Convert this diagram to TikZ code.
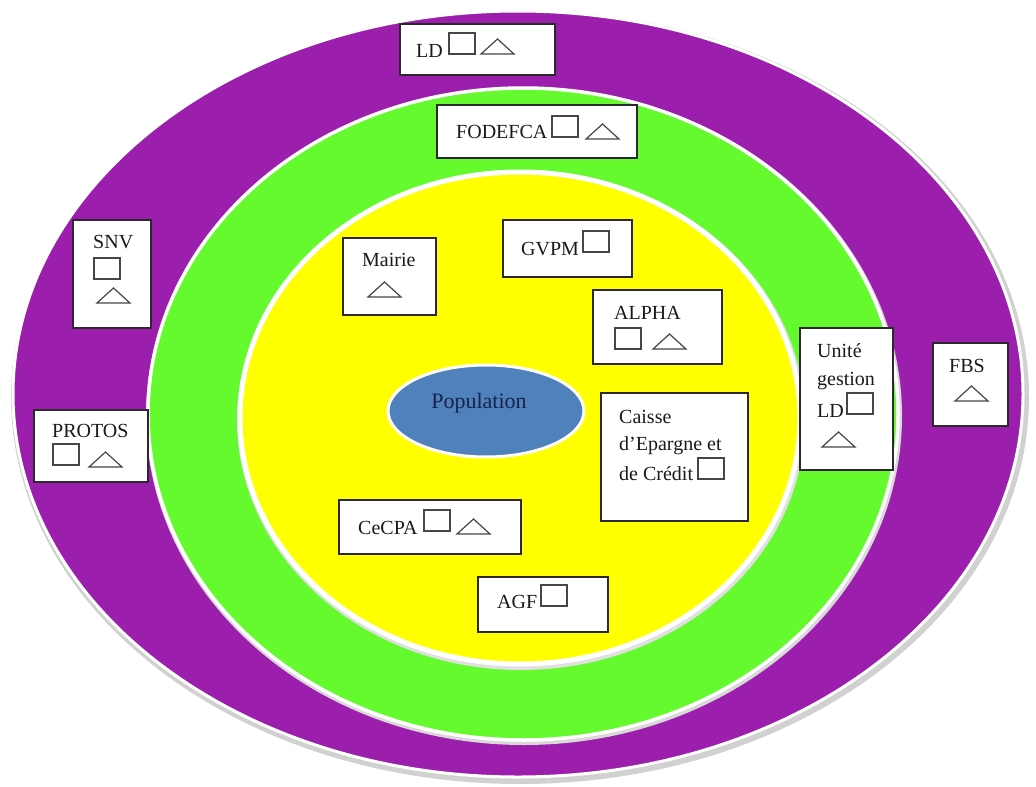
\documentclass[tikz,border=0pt]{standalone}
\usepackage{fontspec}
\setmainfont{Liberation Serif}
\usetikzlibrary{shapes.geometric}
\definecolor{purp}{RGB}{155,30,172}
\definecolor{grn}{RGB}{100,250,45}
\definecolor{yel}{RGB}{255,255,0}
\definecolor{popblue}{RGB}{79,129,189}
\definecolor{boxline}{RGB}{45,40,45}
\definecolor{symline}{RGB}{70,70,70}
\definecolor{txt}{RGB}{25,25,30}
\begin{document}
\begin{tikzpicture}[x=1pt,y=-1pt,
  box/.style={draw=boxline, fill=white, line width=1.6pt, rectangle, inner sep=0pt},
  lbl/.style={anchor=base west, inner sep=0pt, text=txt, font=\fontsize{20}{24}\selectfont},
  symb/.style={draw=symline, line width=1.2pt, line join=miter},
  sqr/.pic={\draw[symb] (0,0) rectangle (26,21);},
  tri/.pic={\draw[symb] (0,15) -- (33,15) -- (16.5,0) -- cycle;}
]
\useasboundingbox (0,0) rectangle (1036,787);
% rings
\fill[black!18] (520,397) ellipse [x radius=509, y radius=387];
\filldraw[fill=purp, draw=white, line width=3pt] (518,394) ellipse [x radius=505, y radius=383];
\fill[black!15] (524,416) ellipse [x radius=378, y radius=329];
\filldraw[fill=grn, draw=white, line width=3.5pt] (523,414) ellipse [x radius=375, y radius=326];
\fill[black!12] (521,420) ellipse [x radius=284, y radius=250];
\filldraw[fill=yel, draw=white, line width=5pt] (520,418) ellipse [x radius=280, y radius=246];
% population
\node[ellipse, fill=popblue, draw=white, line width=3pt, minimum width=196pt, minimum height=92pt, inner sep=0pt] (pop) at (486,411) {};
\node[inner sep=0pt, text={rgb,255:red,25;green,35;blue,70}, font=\fontsize{22}{26}\selectfont] (popT) at (479,403) {Population};
% boxes
\node[box, minimum width=155pt, minimum height=51pt] (ld) at (477.5,49.5) {};
\node[box, minimum width=200pt, minimum height=53pt] (fod) at (537,131.5) {};
\node[box, minimum width=78pt, minimum height=108pt] (snv) at (112,274) {};
\node[box, minimum width=114pt, minimum height=72pt] (pro) at (91,446) {};
\node[box, minimum width=93pt, minimum height=77pt] (mai) at (389.5,276.5) {};
\node[box, minimum width=129pt, minimum height=57pt] (gvp) at (567.5,248.5) {};
\node[box, minimum width=129pt, minimum height=74pt] (alp) at (657.5,327) {};
\node[box, minimum width=147pt, minimum height=128pt] (cai) at (674.5,457) {};
\node[box, minimum width=93pt, minimum height=142pt] (uni) at (846.5,399) {};
\node[box, minimum width=75pt, minimum height=83pt] (fbs) at (970.5,384.5) {};
\node[box, minimum width=182pt, minimum height=54pt] (cec) at (430,527) {};
\node[box, minimum width=130pt, minimum height=55pt] (agf) at (543,604.5) {};
% labels
\node[lbl] (ldT) at (416,57) {LD};
\node[lbl] (fodT) at (456,138) {FODEFCA};
\node[lbl] (snvT) at (93,248) {SNV};
\node[lbl] (proT) at (52,437) {PROTOS};
\node[lbl] (maiT) at (362,266) {Mairie};
\node[lbl] (gvpT) at (521,255) {GVPM};
\node[lbl] (alpT) at (614,319) {ALPHA};
\node[lbl] (caiT1) at (619,423) {Caisse};
\node[lbl] (caiT2) at (619,450) {d’Epargne et};
\node[lbl] (caiT3) at (619,480) {de Crédit};
\node[lbl] (uniT1) at (817,357) {Unité};
\node[lbl] (uniT2) at (817,385) {gestion};
\node[lbl] (uniT3) at (817,417) {LD};
\node[lbl] (fbsT) at (949,372) {FBS};
\node[lbl] (cecT) at (358,534) {CeCPA};
\node[lbl] (agfT) at (497,608) {AGF};
% squares
\pic at (449,33) {sqr};
\pic at (552,116) {sqr};
\pic at (94,258) {sqr};
\pic at (53,444) {sqr};
\pic at (583,231) {sqr};
\pic at (615,328) {sqr};
\pic at (698,458) {sqr};
\pic at (847,393) {sqr};
\pic at (424,510) {sqr};
\pic at (541,585) {sqr};
% triangles
\pic at (481,39) {tri};
\pic at (586,124) {tri};
\pic at (97,288) {tri};
\pic at (89,452) {tri};
\pic at (368,282) {tri};
\pic at (653,334) {tri};
\pic at (822,432) {tri};
\pic at (955,386) {tri};
\pic at (457,519) {tri};
\end{tikzpicture}
\end{document}
